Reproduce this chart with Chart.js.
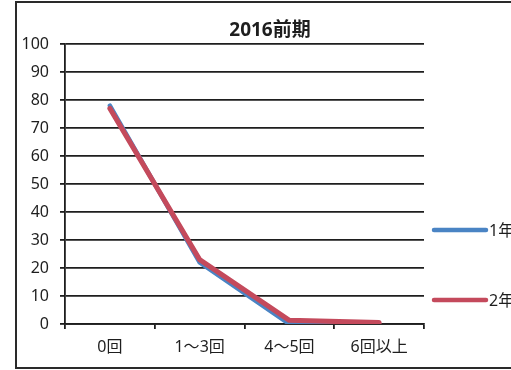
<!DOCTYPE html>
<html>
<head>
<meta charset="utf-8">
<script src="https://cdn.jsdelivr.net/npm/chart.js@4.4.0/dist/chart.umd.min.js"></script>
<style>
  html, body { margin: 0; padding: 0; background: #fff; overflow: hidden; width: 511px; height: 370px; }
  #frame { position: absolute; left: 15px; top: 1px; width: 600px; height: 368px; box-sizing: border-box; border: 2px solid #2a2a2a; }
  #wrap { position: absolute; left: 0; top: 0; width: 540px; height: 370px; }
</style>
</head>
<body>
<div id="frame"></div>
<div id="wrap"><canvas id="c" width="540" height="370"></canvas></div>
<script>
const titleText = '2016前期';
const categories = ['0回', '1〜3回', '4〜5回', '6回以上'];
const seriesNames = ['1年', '2年'];
const year1 = [78, 22, 0, 0];
const year2 = [77, 23, 1.3, 0.5];
const yTicks = [0, 10, 20, 30, 40, 50, 60, 70, 80, 90, 100];

const blue = '#4a84c4';
const red = '#c44a5c';
const ink = '#1e1e1e';
const cjk = '"Noto Sans", "Noto Sans CJK JP", sans-serif';

const extras = {
  id: 'extras',
  afterDraw(chart) {
    const ctx = chart.ctx;
    ctx.save();
    // title
    ctx.fillStyle = ink;
    ctx.font = 'bold 19px ' + cjk;
    ctx.textAlign = 'center';
    ctx.textBaseline = 'middle';
    ctx.fillText(titleText, 270, 31);
    // legend
    const ys = [230, 300];
    chart.data.datasets.forEach((ds, i) => {
      ctx.strokeStyle = ds.borderColor;
      ctx.lineWidth = 4.5;
      ctx.lineCap = 'round';
      ctx.beginPath();
      ctx.moveTo(434, ys[i]);
      ctx.lineTo(486, ys[i]);
      ctx.stroke();
      ctx.fillStyle = ink;
      ctx.font = '16px ' + cjk;
      ctx.textAlign = 'left';
      ctx.textBaseline = 'middle';
      ctx.fillText(ds.label, 489, ys[i] + 1);
    });
    ctx.restore();
  }
};

new Chart(document.getElementById('c'), {
  type: 'line',
  data: {
    labels: categories,
    datasets: [
      { label: seriesNames[0], data: year1, borderColor: blue, backgroundColor: blue, borderWidth: 4.5, pointRadius: 0, tension: 0, borderCapStyle: 'round', borderJoinStyle: 'round', order: 2 },
      { label: seriesNames[1], data: year2, borderColor: red, backgroundColor: red, borderWidth: 5, pointRadius: 0, tension: 0, borderCapStyle: 'round', borderJoinStyle: 'round', order: 1 }
    ]
  },
  options: {
    responsive: false,
    animation: false,
    devicePixelRatio: 1,
    layout: { padding: { top: 44, left: 0, right: 116, bottom: 16 } },
    plugins: { legend: { display: false }, title: { display: false }, tooltip: { enabled: false } },
    scales: {
      x: {
        offset: true,
        grid: { offset: true, drawOnChartArea: false, drawTicks: true, tickLength: 5, color: ink, lineWidth: 1.8 },
        border: { display: true, color: ink, width: 1.8 },
        ticks: { color: ink, font: { family: cjk, size: 16 }, padding: 9, maxRotation: 0 },
        afterFit(s) { s.height = 30; }
      },
      y: {
        min: 0, max: 100,
        afterBuildTicks(s) { s.ticks = yTicks.map(v => ({ value: v })); },
        grid: { color: ink, lineWidth: 1.8, tickLength: 5 },
        border: { display: true, color: ink, width: 1.8 },
        ticks: { color: ink, font: { family: cjk, size: 16 }, padding: 11 },
        afterFit(s) { s.width = 65; }
      }
    }
  },
  plugins: [extras]
});
</script>
</body>
</html>
